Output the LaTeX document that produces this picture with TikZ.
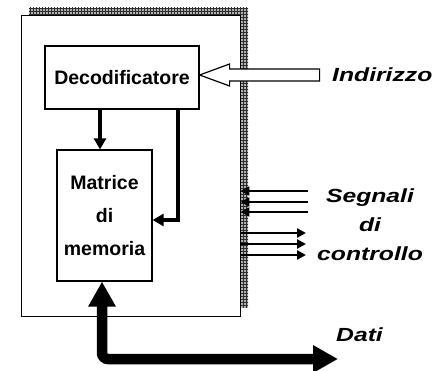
\documentclass[tikz,border=0pt]{standalone}
\usepackage{fontspec}
\setmainfont{Liberation Sans}
\usepackage{graphicx}
\usetikzlibrary{arrows.meta,positioning,calc,patterns,shadows}

\newcommand{\wide}[1]{\scalebox{1.3}[1]{#1}}

\tikzset{
  chip/.style={draw, line width=0.9pt, fill=white, minimum width=219pt, minimum height=301pt, inner sep=0pt},
  blk/.style={draw, line width=1.2pt, fill=white, inner sep=0pt, align=center,
    font=\fontsize{19.5}{33}\selectfont\bfseries,
    general shadow={fill=black, shadow xshift=1.3pt, shadow yshift=-1.3pt}},
  lab/.style={font=\fontsize{19}{29}\selectfont\bfseries\itshape, inner sep=0pt, align=center},
  ctl/.style={line width=4.5pt, -{Triangle[length=11pt,width=12pt]}},
  sig/.style={line width=2.6pt, -{Triangle[length=9pt,width=9pt]}},
  bus/.style={line width=10.5pt, rounded corners=6pt,
    {Triangle[length=25pt,width=26pt]}-{Triangle[length=25pt,width=26pt]}},
  hollow/.style={draw, line width=1.2pt, fill=white, line join=miter}
}

\begin{document}
\begin{tikzpicture}[x=1pt, y=-1pt]
  \useasboundingbox (0,0) rectangle (439,371);

  % memory chip with hatched shadow
  \fill[gray!60, postaction={pattern=grid, pattern color=gray!35!black}] (29,8) rectangle (248,308);
  \node[chip] (chip) at (130.5,165.5) {};

  % internal blocks
  \node[blk, minimum width=154pt, minimum height=63pt] (deco) at (122,77.5) {Decodificatore};
  \node[blk, minimum width=95pt, minimum height=131pt] (mat) at (104.5,215.5) {Matrice\\di\\memoria};

  % labels
  \node[lab, anchor=west] (addr) at (332,75) {\wide{Indirizzo}};
  \node[lab] (ctrl) at (370,225) {\wide{Segnali}\\\wide{di}\\\wide{controllo}};
  \node[lab, anchor=west] (dati) at (336,335) {\wide{Dati}};

  % address bus (hollow arrow)
  \draw[hollow] ([yshift=2.5pt]deco.east) -- ++(30,-11) -- ++(0,5) -- ++(90,0)
    -- ++(0,12) -- ++(-90,0) -- ++(0,5) -- cycle;

  % decoder to matrix
  \coordinate (dm) at ([xshift=-4.5pt]mat.north);
  \draw[ctl] (dm |- deco.south) -- (dm);
  \draw[ctl] ([xshift=56pt]deco.south) |- ([yshift=-4.5pt]mat.east);

  % control signals
  \foreach \y in {191,202,212} {
    \coordinate (sin) at (308,\y);
    \draw[sig] (sin) -- (sin -| chip.east);
  }
  \foreach \y in {233,244,255} {
    \coordinate (sout) at (306,\y);
    \draw[sig] (sout -| chip.east) -- (sout);
  }

  % data bus
  \coordinate (dend) at (338,359);
  \draw[bus] (dend) -| ([xshift=-2.5pt]mat.south);
\end{tikzpicture}
\end{document}
